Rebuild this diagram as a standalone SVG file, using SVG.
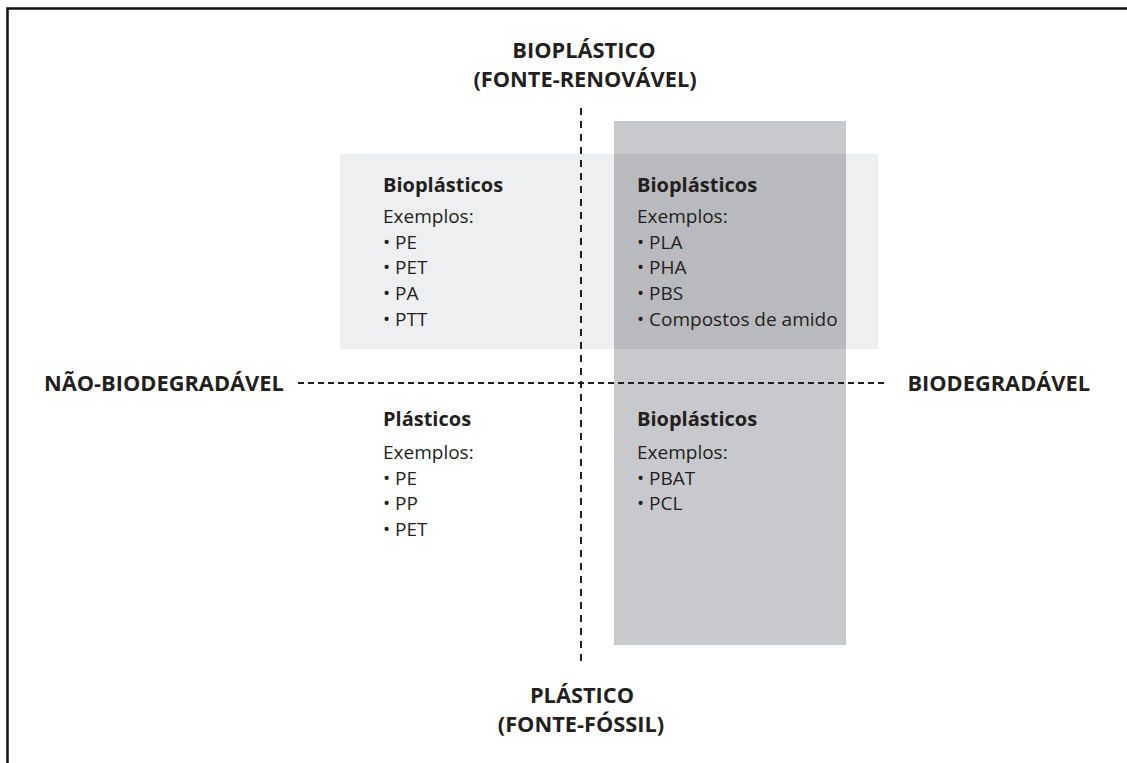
<svg xmlns="http://www.w3.org/2000/svg" width="1127" height="763" viewBox="0 0 1127 763">
<style>
.ax{font-family:"Open Sans","Liberation Sans",sans-serif;font-weight:700;font-size:21.8px;fill:#231f20}
.t{font-family:"Open Sans","Liberation Sans",sans-serif;font-weight:700;font-size:20px;fill:#231f20}
.b{font-family:"Open Sans","Liberation Sans",sans-serif;font-weight:400;font-size:19px;fill:#231f20}
.dash{stroke:#231f20;stroke-width:2;fill:none}
</style>
<rect x="0" y="0" width="1127" height="763" fill="#ffffff"/>
<path d="M7.5 763 V8.5 H1127" fill="none" stroke="#111" stroke-width="2.5"/>
<g id="regions">
<rect x="340" y="154" width="538" height="195" fill="#eeeff0"/>
<rect x="614" y="121" width="232" height="524" fill="#c8c9cd"/>
<rect x="614" y="154" width="232" height="195" fill="#b9babd"/>
</g>
<g id="connectors">
<line class="dash" x1="581" y1="108" x2="581" y2="662" stroke-dasharray="7 6"/>
<line class="dash" x1="298" y1="383" x2="888" y2="383" stroke-dasharray="6 4" stroke-width="1.6"/>
</g>
<g id="axis-top">
<text class="ax" x="584" y="58" text-anchor="middle">BIOPLÁSTICO</text>
<text class="ax" x="585" y="87" text-anchor="middle">(FONTE-RENOVÁVEL)</text>
</g>
<g id="axis-bottom">
<text class="ax" x="582" y="703" text-anchor="middle">PLÁSTICO</text>
<text class="ax" x="581" y="732" text-anchor="middle">(FONTE-FÓSSIL)</text>
</g>
<g id="axis-left">
<text class="ax" x="44" y="391">NÃO-BIODEGRADÁVEL</text>
</g>
<g id="axis-right">
<text class="ax" x="1090" y="391" text-anchor="end">BIODEGRADÁVEL</text>
</g>
<g id="q-top-left">
<text class="t" x="383" y="192">Bioplásticos</text>
<text class="b" x="383" y="223">Exemplos:</text>
<text class="b" x="383" y="249">• PE</text>
<text class="b" x="383" y="274">• PET</text>
<text class="b" x="383" y="300">• PA</text>
<text class="b" x="383" y="326">• PTT</text>
</g>
<g id="q-top-right">
<text class="t" x="637" y="192">Bioplásticos</text>
<text class="b" x="637" y="223">Exemplos:</text>
<text class="b" x="637" y="249">• PLA</text>
<text class="b" x="637" y="274">• PHA</text>
<text class="b" x="637" y="300">• PBS</text>
<text class="b" x="637" y="326">• Compostos de amido</text>
</g>
<g id="q-bottom-left">
<text class="t" x="383" y="426">Plásticos</text>
<text class="b" x="383" y="459">Exemplos:</text>
<text class="b" x="383" y="485">• PE</text>
<text class="b" x="383" y="510">• PP</text>
<text class="b" x="383" y="536">• PET</text>
</g>
<g id="q-bottom-right">
<text class="t" x="637" y="426">Bioplásticos</text>
<text class="b" x="637" y="459">Exemplos:</text>
<text class="b" x="637" y="485">• PBAT</text>
<text class="b" x="637" y="510">• PCL</text>
</g>
</svg>
